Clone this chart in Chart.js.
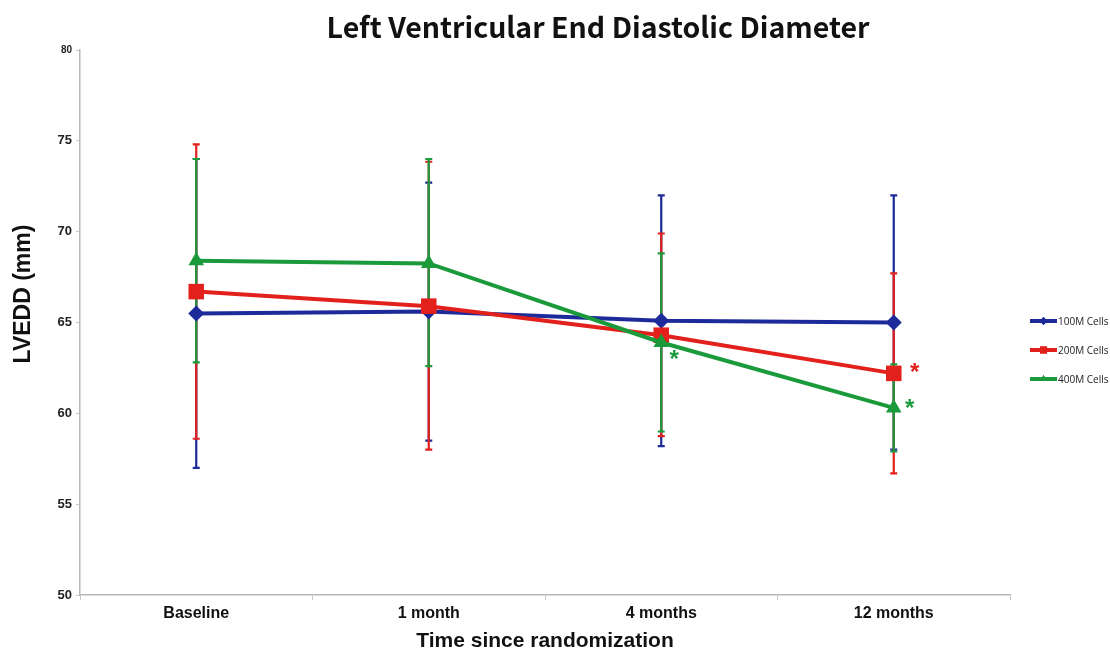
<!DOCTYPE html>
<html>
<head>
<meta charset="utf-8">
<script src="https://cdn.jsdelivr.net/npm/chart.js@4.4.1/dist/chart.umd.min.js"></script>
<style>
  html, body { margin: 0; padding: 0; background: #fff; overflow: hidden; }
  #wrap { position: relative; width: 1110px; height: 654px; }
</style>
</head>
<body>
<div id="wrap"><canvas id="c"></canvas></div>
<script>
// ---- data ----
const categories = ['Baseline', '1 month', '4 months', '12 months'];
const yTicks = [50, 55, 60, 65, 70, 75, 80];

const seriesNames = ['100M Cells', '200M Cells', '400M Cells'];
const mean100 = [65.5, 65.6, 65.1, 65.0];
const mean200 = [66.7, 65.9, 64.3, 62.2];
const mean400 = [68.4, 68.25, 63.9, 60.3];

const upper100 = [74.0, 72.7, 72.0, 72.0];
const lower100 = [57.0, 58.5, 58.2, 58.0];
const upper200 = [74.8, 73.85, 69.9, 67.7];
const lower200 = [58.6, 58.0, 58.75, 56.7];
const upper400 = [74.0, 74.0, 68.8, 62.7];
const lower400 = [62.8, 62.6, 59.0, 57.9];

// significant points: [series index, category index]
const significant = [[2, 2], [1, 3], [2, 3]];

const colors = ['#1c2a9a', '#e2201c', '#1b9a3c'];

const upperAll = [upper100, upper200, upper400];
const lowerAll = [lower100, lower200, lower400];

const errorBars = {
  id: 'errorBars',
  beforeDatasetsDraw(chart) {
    const ctx = chart.ctx;
    const y = chart.scales.y;
    ctx.save();
    [0, 1, 2].forEach(di => {
      const meta = chart.getDatasetMeta(di);
      ctx.strokeStyle = colors[di];
      ctx.lineWidth = 2.2;
      meta.data.forEach((pt, i) => {
        const x = pt.x;
        const yt = y.getPixelForValue(upperAll[di][i]);
        const yb = y.getPixelForValue(lowerAll[di][i]);
        ctx.beginPath();
        ctx.moveTo(x, yt); ctx.lineTo(x, yb);
        ctx.moveTo(x - 3.5, yt); ctx.lineTo(x + 3.5, yt);
        ctx.moveTo(x - 3.5, yb); ctx.lineTo(x + 3.5, yb);
        ctx.stroke();
      });
    });
    ctx.restore();
  },
  afterDraw(chart) {
    const ctx = chart.ctx;
    const ca = chart.chartArea;
    ctx.save();
    // title
    ctx.fillStyle = '#111';
    ctx.textAlign = 'center';
    ctx.textBaseline = 'middle';
    ctx.font = 'bold 28.5px "Noto Sans CJK SC", "Open Sans", sans-serif';
    ctx.fillText('Left Ventricular End Diastolic Diameter', 598, 27);
    // y axis title
    ctx.save();
    ctx.translate(24, 294);
    ctx.rotate(-Math.PI / 2);
    ctx.font = 'bold 23px "Liberation Sans", Arial, sans-serif';
    ctx.fillText('LVEDD (mm)', 0, 0);
    ctx.restore();
    // significance stars
    ctx.font = 'bold 24px "Liberation Sans", Arial, sans-serif';
    significant.forEach(([di, i]) => {
      const pt = chart.getDatasetMeta(di).data[i];
      let dx = 18, dy = 0;
      if (di === 2 && i === 2) { dx = 13; dy = 14; }
      if (di === 1 && i === 3) { dx = 21; dy = -4; }
      if (di === 2 && i === 3) { dx = 16; dy = -3; }
      ctx.fillStyle = colors[di];
      ctx.fillText('*', pt.x + dx, pt.y + dy + 4);
    });
    // legend
    const legY = [321, 350, 379];
    const legMark = [4, 5, 4];
    ctx.textAlign = 'left';
    ctx.font = '10px "Open Sans", "Liberation Sans", sans-serif';
    [0, 1, 2].forEach(di => {
      const yy = legY[di];
      ctx.strokeStyle = colors[di];
      ctx.fillStyle = colors[di];
      ctx.lineWidth = 4;
      ctx.beginPath();
      ctx.moveTo(1030, yy); ctx.lineTo(1057, yy);
      ctx.stroke();
      Chart.helpers.drawPoint(ctx, { pointStyle: pointStyles[di], radius: legMark[di], rotation: 0, borderWidth: 0 }, 1043.5, yy);
      ctx.fill();
      ctx.fillStyle = '#222';
      ctx.fillText(seriesNames[di], 1058, yy + 1);
    });
    ctx.restore();
  }
};

const pointStyles = ['rectRot', 'rect', 'triangle'];
const pointRadii = [8, 11, 9];
const means = [mean100, mean200, mean400];

new Chart(document.getElementById('c'), {
  type: 'line',
  data: {
    labels: categories,
    datasets: [0, 1, 2].map(di => ({
      label: seriesNames[di],
      data: means[di],
      borderColor: colors[di],
      backgroundColor: colors[di],
      borderWidth: 4,
      pointStyle: pointStyles[di],
      pointRadius: pointRadii[di],
      pointBorderWidth: 0,
      tension: 0,
      order: 3 - di
    }))
  },
  options: {
    responsive: true,
    maintainAspectRatio: false,
    animation: false,
    layout: { padding: { top: 50, left: 0, right: 100, bottom: 0 } },
    plugins: {
      title: { display: false },
      tooltip: { enabled: false },
      legend: { display: false }
    },
    scales: {
      x: {
        offset: true,
        grid: { display: true, drawOnChartArea: false, offset: true, color: '#c8c8c8', tickLength: 5 },
        border: { color: '#b8b8b8', width: 1.5 },
        ticks: {
          color: '#111',
          padding: 4,
          font: { size: 16, weight: 'bold', family: '"Liberation Sans", Arial, sans-serif' }
        },
        title: {
          display: true,
          text: 'Time since randomization',
          color: '#111',
          padding: { top: 0, bottom: 0 },
          font: { size: 21, weight: 'bold', family: '"Liberation Sans", Arial, sans-serif' }
        },
        afterFit(scale) { scale.height = 59; }
      },
      y: {
        min: 50,
        max: 80,
        afterBuildTicks(scale) { scale.ticks = yTicks.map(v => ({ value: v })); },
        grid: { display: true, drawOnChartArea: false, color: '#c8c8c8', tickLength: 4 },
        border: { color: '#b8b8b8', width: 1.5 },
        ticks: {
          color: '#222',
          padding: 4,
          font: (ctx) => ({
            size: ctx.tick && ctx.tick.value === 80 ? 10 : 13,
            weight: 'bold',
            family: '"Liberation Sans", Arial, sans-serif'
          })
        },
        title: { display: false },
        afterFit(scale) { scale.width = 80; }
      }
    }
  },
  plugins: [errorBars]
});
</script>
</body>
</html>
